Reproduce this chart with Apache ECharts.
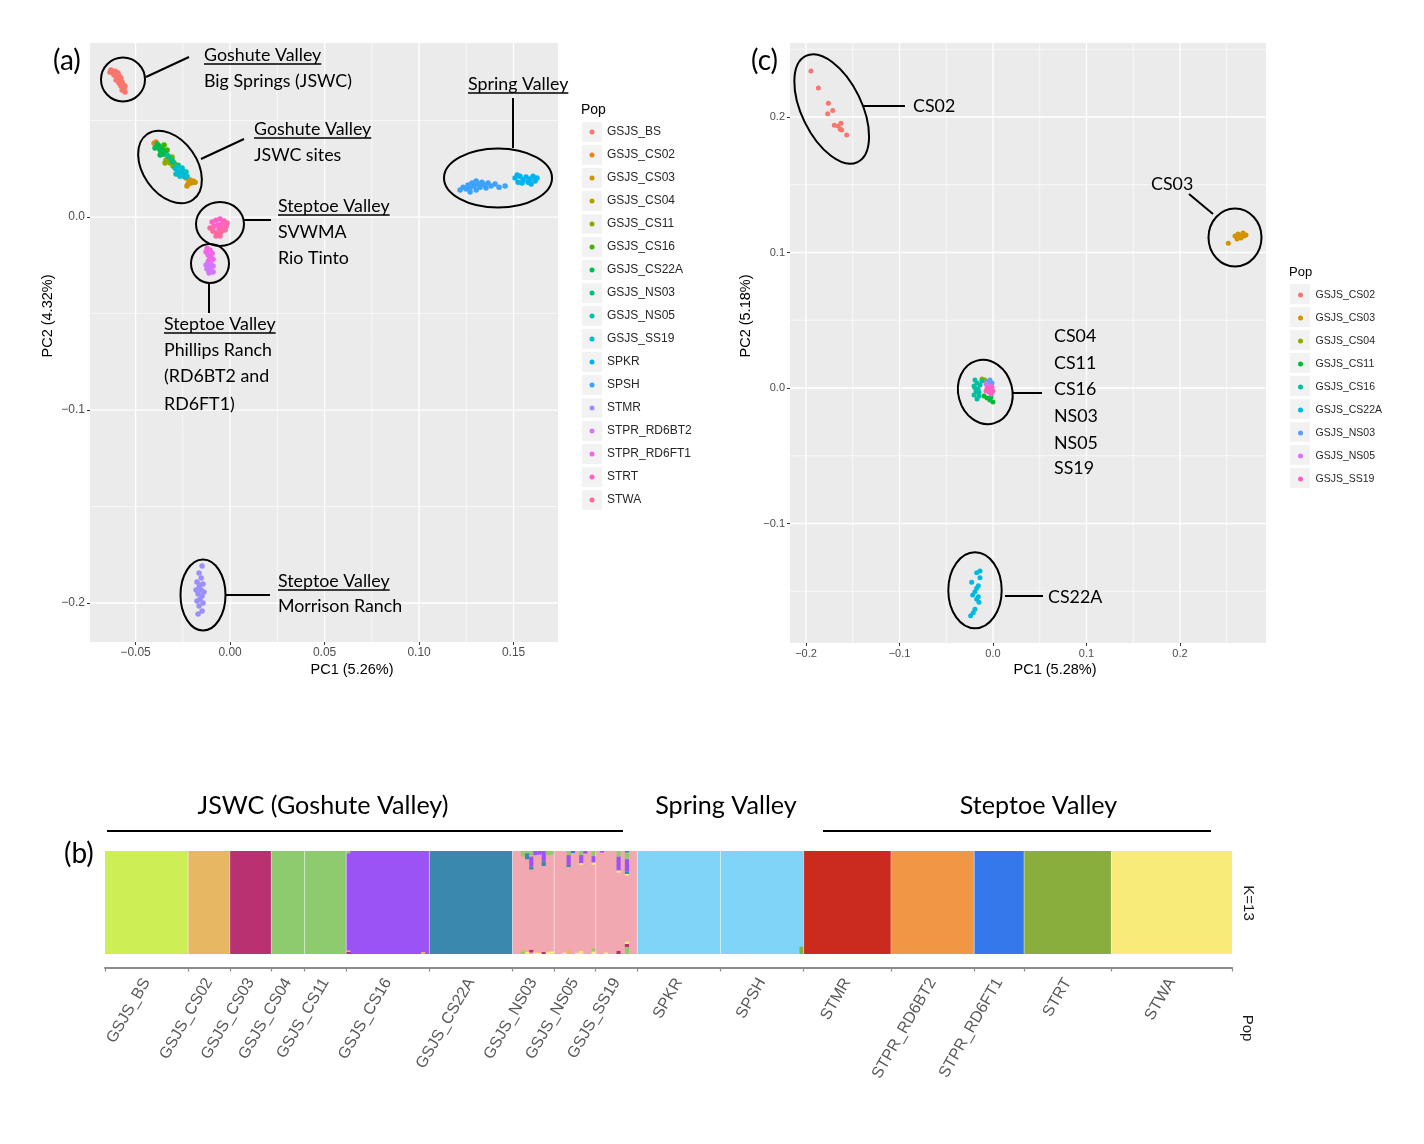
<!DOCTYPE html>
<html>
<head>
<meta charset="utf-8">
<script src="https://cdn.jsdelivr.net/npm/echarts@6.0.0/dist/echarts.min.js"></script>
<style>
html,body{margin:0;padding:0;background:#ffffff;}
#chart{width:1424px;height:1144px;}
</style>
</head>
<body>
<div id="chart"></div>
<script>
// ================= DATA =================
// ---- Panel (a): PCA of all populations ----
const popsA = ['GSJS_BS','GSJS_CS02','GSJS_CS03','GSJS_CS04','GSJS_CS11','GSJS_CS16','GSJS_CS22A','GSJS_NS03','GSJS_NS05','GSJS_SS19','SPKR','SPSH','STMR','STPR_RD6BT2','STPR_RD6FT1','STRT','STWA'];
const colorsA = ['#F8766D','#E7851A','#D09400','#B1A100','#89AC00','#39B600','#00BC50','#00C087','#00C1B2','#00BCD6','#00B3F1','#3CA2FF','#9B8EFF','#D277FD','#F166E8','#FF61C7','#FF6A9E'];

const a_GSJS_BS = [[-0.0630,0.0762],[-0.0619,0.0751],[-0.0608,0.0756],[-0.0614,0.0736],[-0.0603,0.0741],[-0.0598,0.0725],[-0.0587,0.0731],[-0.0593,0.0715],[-0.0582,0.0710],[-0.0577,0.0720],[-0.0587,0.0694],[-0.0571,0.0699],[-0.0577,0.0679],[-0.0566,0.0684],[-0.0561,0.0668],[-0.0571,0.0658],[-0.0556,0.0648],[-0.0598,0.0746],[-0.0635,0.0751],[-0.0593,0.0746],[-0.0603,0.0710],[-0.0556,0.0679]];
const a_GSJS_CS02 = [[-0.0402,0.0383],[-0.0392,0.0389],[-0.0381,0.0373],[-0.0212,0.0192],[-0.0201,0.0181]];
const a_GSJS_CS03 = [[-0.0233,0.0202],[-0.0217,0.0187],[-0.0206,0.0176],[-0.0196,0.0187],[-0.0222,0.0171],[-0.0243,0.0212],[-0.0185,0.0181],[-0.0228,0.0161]];
const a_GSJS_CS04 = [[-0.0328,0.0306],[-0.0312,0.0295],[-0.0296,0.0280]];
const a_GSJS_CS11 = [[-0.0339,0.0295],[-0.0317,0.0280],[-0.0302,0.0264],[-0.0286,0.0269],[-0.0344,0.0280],[-0.0307,0.0311]];
const a_GSJS_CS16 = [[-0.0381,0.0363],[-0.0370,0.0352],[-0.0360,0.0358],[-0.0365,0.0337],[-0.0349,0.0342],[-0.0354,0.0326],[-0.0349,0.0373],[-0.0333,0.0347]];
const a_GSJS_CS22A = [[-0.0386,0.0378],[-0.0376,0.0368],[-0.0360,0.0347],[-0.0344,0.0332],[-0.0370,0.0347],[-0.0397,0.0358],[-0.0370,0.0321]];
const a_GSJS_NS03 = [[-0.0333,0.0321],[-0.0323,0.0311],[-0.0307,0.0295],[-0.0291,0.0254],[-0.0275,0.0244],[-0.0302,0.0285],[-0.0275,0.0269]];
const a_GSJS_NS05 = [[-0.0280,0.0259],[-0.0265,0.0244],[-0.0270,0.0228],[-0.0254,0.0233],[-0.0243,0.0223],[-0.0233,0.0233],[-0.0286,0.0223]];
const a_GSJS_SS19 = [[-0.0286,0.0249],[-0.0275,0.0233],[-0.0259,0.0218],[-0.0249,0.0238],[-0.0238,0.0207],[-0.0265,0.0212],[-0.0254,0.0254],[-0.0228,0.0212]];
const a_SPKR = [[0.1508,0.0202],[0.1524,0.0181],[0.1534,0.0212],[0.1550,0.0192],[0.1566,0.0207],[0.1577,0.0181],[0.1587,0.0197],[0.1603,0.0212],[0.1614,0.0187],[0.1624,0.0202],[0.1519,0.0218],[0.1545,0.0176],[0.1593,0.0171]];
const a_SPSH = [[0.1217,0.0140],[0.1233,0.0155],[0.1249,0.0145],[0.1259,0.0166],[0.1270,0.0150],[0.1280,0.0176],[0.1291,0.0161],[0.1302,0.0140],[0.1312,0.0171],[0.1323,0.0155],[0.1333,0.0181],[0.1344,0.0166],[0.1354,0.0150],[0.1365,0.0176],[0.1381,0.0161],[0.1402,0.0171],[0.1423,0.0155],[0.1455,0.0161],[0.1270,0.0130],[0.1302,0.0187]];
const a_STMR = [[-0.0148,-0.1808],[-0.0164,-0.1845],[-0.0153,-0.1870],[-0.0175,-0.1891],[-0.0143,-0.1902],[-0.0164,-0.1917],[-0.0180,-0.1933],[-0.0153,-0.1933],[-0.0138,-0.1943],[-0.0169,-0.1953],[-0.0148,-0.1964],[-0.0159,-0.1979],[-0.0175,-0.1990],[-0.0143,-0.2000],[-0.0164,-0.2016],[-0.0148,-0.2041],[-0.0169,-0.2057],[-0.0159,-0.1907]];
const a_STPR_RD6BT2 = [[-0.0116,-0.0233],[-0.0101,-0.0244],[-0.0090,-0.0254],[-0.0111,-0.0259],[-0.0122,-0.0269],[-0.0101,-0.0275],[-0.0090,-0.0285],[-0.0111,-0.0290],[-0.0127,-0.0249]];
const a_STPR_RD6FT1 = [[-0.0122,-0.0161],[-0.0106,-0.0171],[-0.0095,-0.0187],[-0.0116,-0.0197],[-0.0101,-0.0207],[-0.0090,-0.0218],[-0.0111,-0.0223],[-0.0127,-0.0181]];
const a_STRT = [[-0.0095,-0.0026],[-0.0074,-0.0016],[-0.0053,-0.0010],[-0.0032,-0.0021],[-0.0085,-0.0047],[-0.0063,-0.0041],[-0.0042,-0.0036],[-0.0021,-0.0047],[-0.0058,-0.0062]];
const a_STWA = [[-0.0106,-0.0057],[-0.0090,-0.0073],[-0.0069,-0.0083],[-0.0048,-0.0078],[-0.0026,-0.0067],[-0.0074,-0.0098],[-0.0053,-0.0098],[-0.0037,-0.0057],[-0.0016,-0.0031]];

const aXTicks = [-0.05, 0.00, 0.05, 0.10, 0.15];
const aXMinor = [-0.025, 0.025, 0.075, 0.125];
const aYTicks = [-0.2, -0.1, 0.0];
const aYMinor = [-0.15, -0.05, 0.05];

// ---- Panel (c): PCA of JSWC sites ----
const popsC = ['GSJS_CS02','GSJS_CS03','GSJS_CS04','GSJS_CS11','GSJS_CS16','GSJS_CS22A','GSJS_NS03','GSJS_NS05','GSJS_SS19'];
const colorsC = ['#F8766D','#D39200','#93AA00','#00BA38','#00C19F','#00B9E3','#619CFF','#DB72FB','#FF61C3'];

const c_GSJS_CS02 = [[-0.1947,0.2339],[-0.1868,0.2214],[-0.1761,0.2101],[-0.1714,0.2047],[-0.1768,0.2024],[-0.1697,0.1939],[-0.1655,0.1934],[-0.1626,0.1954],[-0.1633,0.1909],[-0.1618,0.1904],[-0.1565,0.1867]];
const c_GSJS_CS03 = [[0.2517,0.1068],[0.2588,0.1122],[0.2620,0.1137],[0.2642,0.1114],[0.2663,0.1129],[0.2684,0.1122],[0.2706,0.1129],[0.2610,0.1100],[0.2652,0.1107],[0.2674,0.1144]];
const c_GSJS_CS04 = [[-0.0118,0.0066],[-0.0086,0.0059]];
const c_GSJS_CS11 = [[-0.0032,-0.0089],[0.0000,-0.0103],[-0.0064,-0.0074],[-0.0021,-0.0066],[-0.0096,-0.0059]];
const c_GSJS_CS16 = [[-0.0193,0.0059],[-0.0171,0.0037],[-0.0203,0.0015],[-0.0160,-0.0007],[-0.0182,-0.0030],[-0.0203,-0.0052],[-0.0150,-0.0059],[-0.0171,-0.0081],[-0.0139,0.0022],[-0.0118,0.0052],[-0.0193,0.0000],[-0.0150,-0.0030]];
const c_GSJS_CS22A = [[-0.0139,-0.1351],[-0.0174,-0.1363],[-0.0139,-0.1400],[-0.0228,-0.1434],[-0.0157,-0.1459],[-0.0174,-0.1478],[-0.0193,-0.1503],[-0.0217,-0.1528],[-0.0157,-0.1540],[-0.0174,-0.1559],[-0.0150,-0.1582],[-0.0193,-0.1633],[-0.0211,-0.1658],[-0.0239,-0.1680]];
const c_GSJS_NS03 = [[-0.0032,0.0059],[-0.0011,0.0037],[-0.0053,0.0044]];
const c_GSJS_NS05 = [[-0.0075,0.0030],[-0.0043,0.0015]];
const c_GSJS_SS19 = [[-0.0064,0.0000],[-0.0032,-0.0015],[-0.0011,0.0007],[-0.0043,-0.0030],[0.0000,-0.0022],[-0.0075,-0.0022],[-0.0021,-0.0044]];

const cXTicks = [-0.2, -0.1, 0.0, 0.1, 0.2];
const cXMinor = [-0.15, -0.05, 0.05, 0.15, 0.25];
const cYTicks = [-0.1, 0.0, 0.1, 0.2];
const cYMinor = [-0.15, -0.05, 0.05, 0.15, 0.25];

// ---- Panel (b): STRUCTURE K=13 ----
const structPops = ['GSJS_BS','GSJS_CS02','GSJS_CS03','GSJS_CS04','GSJS_CS11','GSJS_CS16','GSJS_CS22A','GSJS_NS03','GSJS_NS05','GSJS_SS19','SPKR','SPSH','STMR','STPR_RD6BT2','STPR_RD6FT1','STRT','STWA'];
const structSizes = [20,10,10,8,10,20,20,10,10,10,20,20,21,20,12,21,29];
const structMainCluster = [0,1,2,3,3,4,5,6,6,6,7,7,8,9,10,11,12];
const clusterColors = ['#CDEE55','#E8B763','#BA3172','#8DCB6E','#9C53F5','#3A88AE','#F1A8B0','#80D4F8','#CB2A1F','#F09645','#3478EB','#8AAE3E','#F9EB79'];
// [individual, cluster, lower q, upper q]
const admixture = [
  [58,3,0.975,1],[58,2,0,0.02],[58,1,0.02,0.035],[76,1,0,0.02],
  [100,3,0.945,1],[101,3,0.977,1],[101,5,0.92,0.977],
  [102,3,0.96,1],[102,1,0.945,0.96],[102,4,0.85,0.945],[102,5,0.82,0.85],
  [103,4,0.96,1],[104,4,0.965,1],[105,4,0.9,1],[105,5,0.855,0.9],
  [106,3,0.96,1],[107,3,0.965,1],
  [100,1,0.04,0.055],[100,3,0,0.025],[101,12,0,0.02],[102,2,0.015,0.04],[103,12,0,0.015],[104,12,0,0.012],[105,2,0,0.02],[106,12,0,0.02],[107,12,0,0.025],
  [111,3,0.96,1],[111,4,0.865,0.96],[111,5,0.845,0.865],[112,10,0.98,1],
  [114,3,0.96,1],[114,4,0.88,0.96],[114,12,0.865,0.88],[115,4,0.975,1],
  [117,3,0.95,1],[117,4,0.887,0.95],[117,12,0.865,0.887],
  [111,1,0,0.04],[114,12,0,0.03],[117,3,0.023,0.055],[117,12,0,0.023],[110,12,0,0.015],[113,12,0,0.012],
  [119,4,0.985,1],
  [123,3,0.945,1],[123,4,0.81,0.945],[123,12,0.79,0.81],
  [125,5,0.984,1],[125,3,0.92,0.984],[125,4,0.8,0.92],[125,5,0.777,0.8],[125,12,0.761,0.777],
  [123,2,0,0.03],[125,12,0.097,0.12],[125,2,0.065,0.097],[125,3,0,0.065],[120,12,0,0.015],
  [167,11,0,0.07]
];

// ================= BUILD =================
const dataA = [a_GSJS_BS,a_GSJS_CS02,a_GSJS_CS03,a_GSJS_CS04,a_GSJS_CS11,a_GSJS_CS16,a_GSJS_CS22A,a_GSJS_NS03,a_GSJS_NS05,a_GSJS_SS19,a_SPKR,a_SPSH,a_STMR,a_STPR_RD6BT2,a_STPR_RD6FT1,a_STRT,a_STWA];
const dataC = [c_GSJS_CS02,c_GSJS_CS03,c_GSJS_CS04,c_GSJS_CS11,c_GSJS_CS16,c_GSJS_CS22A,c_GSJS_NS03,c_GSJS_NS05,c_GSJS_SS19];

let cum = 0;
const blocks = [], bounds = [0], centers = [];
structSizes.forEach((s, i) => {
  blocks.push([cum, cum + s, structMainCluster[i]]);
  centers.push(cum + s / 2);
  cum += s;
  bounds.push(cum);
});
const totalInd = cum;
const innerBounds = bounds.slice(1, -1).map(b => [b, 0.5]);

const fmt = (v, d) => (v < -1e-9 ? '\u2212' : '') + Math.abs(v).toFixed(d);
const AX = 'Liberation Sans';
const DEG = Math.PI / 180;

const mctx = document.createElement('canvas').getContext('2d');
function tw(s, font) { mctx.font = font; return mctx.measureText(s).width; }
const annoSize = +(20 * 148 / tw('Big Springs (JSWC)', '20px Lato')).toFixed(2);
const annoFont = annoSize + 'px Lato';
const titleSize = +(24 * 251 / tw('JSWC (Goshute Valley)', '24px Lato')).toFixed(2);
const titleFont = titleSize + 'px Lato';

function gridLines(gi, xMaj, xMin, yMaj, yMin) {
  const data = [];
  xMin.forEach(v => data.push([v, 0, 0, 0]));
  yMin.forEach(v => data.push([0, v, 1, 0]));
  xMaj.forEach(v => data.push([v, 0, 0, 1]));
  yMaj.forEach(v => data.push([0, v, 1, 1]));
  return {
    type: 'custom', xAxisIndex: gi, yAxisIndex: gi, z: 1, silent: true, data,
    encode: {x: 0, y: 1},
    renderItem(params, api) {
      const cs = params.coordSys;
      const p = api.coord([api.value(0), api.value(1)]);
      const w = api.value(3) === 1 ? 1.3 : 0.65;
      const shape = api.value(2) === 0
        ? {x1: p[0], y1: cs.y, x2: p[0], y2: cs.y + cs.height}
        : {x1: cs.x, y1: p[1], x2: cs.x + cs.width, y2: p[1]};
      return {type: 'line', shape, style: {stroke: '#FFFFFF', lineWidth: w}};
    }
  };
}

function valAxis(gi, min, max, ticks, dec, fs) {
  return {
    type: 'value', gridIndex: gi, min, max,
    axisLine: {show: false, onZero: false},
    axisTick: {show: true, customValues: ticks, length: 3, lineStyle: {color: '#333333', width: 1}},
    axisLabel: {customValues: ticks, formatter: v => fmt(v, dec), color: '#4D4D4D', fontSize: fs, fontFamily: AX, margin: 5},
    splitLine: {show: false}, minorSplitLine: {show: false}
  };
}

const series = [];
series.push(gridLines(0, aXTicks, aXMinor, aYTicks, aYMinor));
series.push(gridLines(1, cXTicks, cXMinor, cYTicks, cYMinor));
popsA.forEach((n, i) => series.push({
  type: 'scatter', name: n, xAxisIndex: 0, yAxisIndex: 0, data: dataA[i], symbolSize: 5.5, z: 3,
  itemStyle: {color: colorsA[i], opacity: 1}, silent: true
}));
popsC.forEach((n, i) => series.push({
  type: 'scatter', name: 'c:' + n, xAxisIndex: 1, yAxisIndex: 1, data: dataC[i], symbolSize: 5, z: 3,
  itemStyle: {color: colorsC[i], opacity: 1}, silent: true
}));
series.push({
  type: 'custom', xAxisIndex: 2, yAxisIndex: 2, silent: true, data: blocks, z: 2,
  renderItem(params, api) {
    const p0 = api.coord([api.value(0), 0]), p1 = api.coord([api.value(1), 1]);
    return {type: 'rect', shape: {x: p0[0], y: p1[1], width: p1[0] - p0[0], height: p0[1] - p1[1]},
      style: {fill: clusterColors[api.value(2)]}};
  }
});
series.push({
  type: 'custom', xAxisIndex: 2, yAxisIndex: 2, silent: true, data: admixture, z: 3,
  renderItem(params, api) {
    const i = api.value(0);
    const p0 = api.coord([i, api.value(2)]), p1 = api.coord([i + 1, api.value(3)]);
    return {type: 'rect', shape: {x: p0[0], y: p1[1], width: p1[0] - p0[0], height: p0[1] - p1[1]},
      style: {fill: clusterColors[api.value(1)]}};
  }
});
series.push({
  type: 'custom', xAxisIndex: 2, yAxisIndex: 2, silent: true, data: innerBounds, z: 4,
  renderItem(params, api) {
    const cs = params.coordSys;
    const p = api.coord([api.value(0), 0.5]);
    return {type: 'line', shape: {x1: p[0], y1: cs.y, x2: p[0], y2: cs.y + cs.height},
      style: {stroke: 'rgba(255,255,255,0.45)', lineWidth: 1}};
  }
});

// ================= DECORATION (graphic) =================
const g = [];
popsA.forEach((_, i) => g.push({type: 'rect', z: 0, shape: {x: 582, y: 122 + 23 * i, width: 20, height: 20}, style: {fill: '#F2F2F2'}}));
popsC.forEach((_, i) => g.push({type: 'rect', z: 0, shape: {x: 1290, y: 284 + 23 * i, width: 20, height: 20}, style: {fill: '#F2F2F2'}}));

function txt(text, x, y, font, opts) {
  opts = opts || {};
  const align = opts.align || 'left';
  return {type: 'text', x, y, rotation: (opts.rot || 0) * DEG, z: 20,
    style: {text, font, fill: opts.fill || '#000000', align, verticalAlign: 'middle', textAlign: align, textVerticalAlign: 'middle'}};
}
function line(x1, y1, x2, y2, w) {
  return {type: 'line', z: 20, shape: {x1, y1, x2, y2}, style: {stroke: '#000000', lineWidth: w || 2}};
}
function ell(cx, cy, rx, ry, rotDeg) {
  return {type: 'ellipse', z: 20, x: cx, y: cy, rotation: (rotDeg || 0) * DEG,
    shape: {cx: 0, cy: 0, rx, ry}, style: {fill: 'none', stroke: '#000000', lineWidth: 2}};
}
function utxt(text, x, y) {
  g.push(txt(text, x, y, annoFont));
  g.push(line(x, y + 9, x + tw(text, annoFont), y + 9, 1.5));
}

// panel labels
g.push(txt('(a)', 53, 61, '28px Lato'));
g.push(txt('(c)', 751, 61, '28px Lato'));
g.push(txt('(b)', 64, 854, '28px Lato'));

// axis titles & legend titles
g.push(txt('PC1 (5.26%)', 352, 670, '14.5px ' + AX, {align: 'center'}));
g.push(txt('PC2 (4.32%)', 48, 316, '14.5px ' + AX, {align: 'center', rot: 90}));
g.push(txt('PC1 (5.28%)', 1055, 670, '14.5px ' + AX, {align: 'center'}));
g.push(txt('PC2 (5.18%)', 746, 316, '14.5px ' + AX, {align: 'center', rot: 90}));
g.push(txt('Pop', 581, 110, '14px ' + AX));
g.push(txt('Pop', 1289, 272, '13px ' + AX));

// panel (a) annotations
g.push(ell(123, 79.5, 22, 22, 0));
g.push(line(146, 77, 189, 57));
utxt('Goshute Valley', 204, 55);
g.push(txt('Big Springs (JSWC)', 204, 81, annoFont));

g.push(ell(170, 167, 40, 27, -55));
g.push(line(201, 159, 244, 139));
utxt('Goshute Valley', 254, 129);
g.push(txt('JSWC sites', 254, 155, annoFont));

g.push(ell(498, 178, 54, 29.5, 0));
g.push(line(513, 98, 513, 148));
utxt('Spring Valley', 468, 84);

g.push(ell(220, 224, 24, 22, 0));
g.push(line(244, 220, 271, 220));
utxt('Steptoe Valley', 278, 206);
g.push(txt('SVWMA', 278, 232.5, annoFont));
g.push(txt('Rio Tinto', 278, 258.5, annoFont));

g.push(ell(210, 263.5, 19, 19.5, 0));
g.push(line(209, 283, 209, 313));
utxt('Steptoe Valley', 164, 324);
g.push(txt('Phillips Ranch', 164, 350, annoFont));
g.push(txt('(RD6BT2 and', 164, 376, annoFont));
g.push(txt('RD6FT1)', 164, 404, annoFont));

g.push(ell(203, 595, 22.5, 35.5, 0));
g.push(line(226, 595, 270, 595));
utxt('Steptoe Valley', 278, 581);
g.push(txt('Morrison Ranch', 278, 606.5, annoFont));

// panel (c) annotations
g.push(ell(831.7, 109, 59, 30, -64));
g.push(line(862, 106, 905, 106));
g.push(txt('CS02', 913, 106.5, annoFont));

g.push(ell(1235, 237.5, 26.5, 29, 0));
g.push(line(1213, 214, 1189, 194));
g.push(txt('CS03', 1151, 184.5, annoFont));

g.push(ell(985.3, 392, 27, 32.5, 15));
g.push(line(1013, 393, 1042, 393));
['CS04','CS11','CS16','NS03','NS05','SS19'].forEach((t, i) => g.push(txt(t, 1054, [336.7,362.8,389.2,416.3,442.8,468.3][i], annoFont)));

g.push(ell(975, 590.3, 26.7, 38, 0));
g.push(line(1005, 596, 1043, 596));
g.push(txt('CS22A', 1048, 597, annoFont));

// panel (b) headers
g.push(txt('JSWC (Goshute Valley)', 323, 806, titleFont, {align: 'center'}));
g.push(txt('Spring Valley', 726, 806, titleFont, {align: 'center'}));
g.push(txt('Steptoe Valley', 1038.5, 806, titleFont, {align: 'center'}));
g.push(line(107, 831, 623, 831, 2));
g.push(line(823, 831, 1211, 831, 2));
g.push(txt('K=13', 1248, 903, '15px ' + AX, {align: 'center', rot: -90, fill: '#1A1A1A'}));
g.push(txt('Pop', 1247, 1028, '15px ' + AX, {align: 'center', rot: -90, fill: '#1A1A1A'}));

// ================= OPTION =================
const chart = echarts.init(document.getElementById('chart'));
chart.setOption({
  animation: false,
  backgroundColor: '#FFFFFF',
  grid: [
    {left: 90, top: 43, width: 468, height: 599, show: true, backgroundColor: '#EBEBEB', borderWidth: 0, outerBoundsMode: 'none'},
    {left: 790, top: 43, width: 476, height: 600, show: true, backgroundColor: '#EBEBEB', borderWidth: 0, outerBoundsMode: 'none'},
    {left: 105, top: 851, width: 1127, height: 103, show: false, outerBoundsMode: 'none'}
  ],
  xAxis: [
    valAxis(0, -0.0741, 0.1735, aXTicks, 2, 12),
    valAxis(1, -0.2171, 0.292, cXTicks, 1, 11),
    {
      type: 'value', gridIndex: 2, min: 0, max: totalInd, position: 'bottom', offset: 13.5,
      axisLine: {show: true, onZero: false, lineStyle: {color: '#8C8C8C', width: 2}},
      axisTick: {show: true, customValues: bounds, length: 4, lineStyle: {color: '#8C8C8C', width: 1.2}},
      axisLabel: {
        customValues: centers, rotate: 60, margin: 12, fontSize: 16, fontFamily: AX, color: '#595959',
        formatter: v => { const k = centers.findIndex(c => Math.abs(c - v) < 1e-6); return k >= 0 ? structPops[k] : ''; }
      },
      splitLine: {show: false}
    }
  ],
  yAxis: [
    valAxis(0, -0.2202, 0.0902, aYTicks, 1, 12),
    valAxis(1, -0.1882, 0.2546, cYTicks, 1, 11),
    {type: 'value', gridIndex: 2, min: 0, max: 1, show: false}
  ],
  legend: [
    {data: popsA, orient: 'vertical', left: 589.5, top: 123.5, padding: 0, itemWidth: 20, itemHeight: 5, itemGap: 6, icon: 'circle',
     selectedMode: false, textStyle: {fontSize: 12, fontFamily: AX, color: '#262626', lineHeight: 17}},
    {data: popsC.map(n => 'c:' + n), formatter: n => n.slice(2), orient: 'vertical', left: 1298, top: 286.5, padding: 0, itemWidth: 20, itemHeight: 5, itemGap: 6, icon: 'circle',
     selectedMode: false, textStyle: {fontSize: 10.5, fontFamily: AX, color: '#262626', lineHeight: 17}}
  ],
  series,
  graphic: {elements: g}
});
</script>
</body>
</html>
